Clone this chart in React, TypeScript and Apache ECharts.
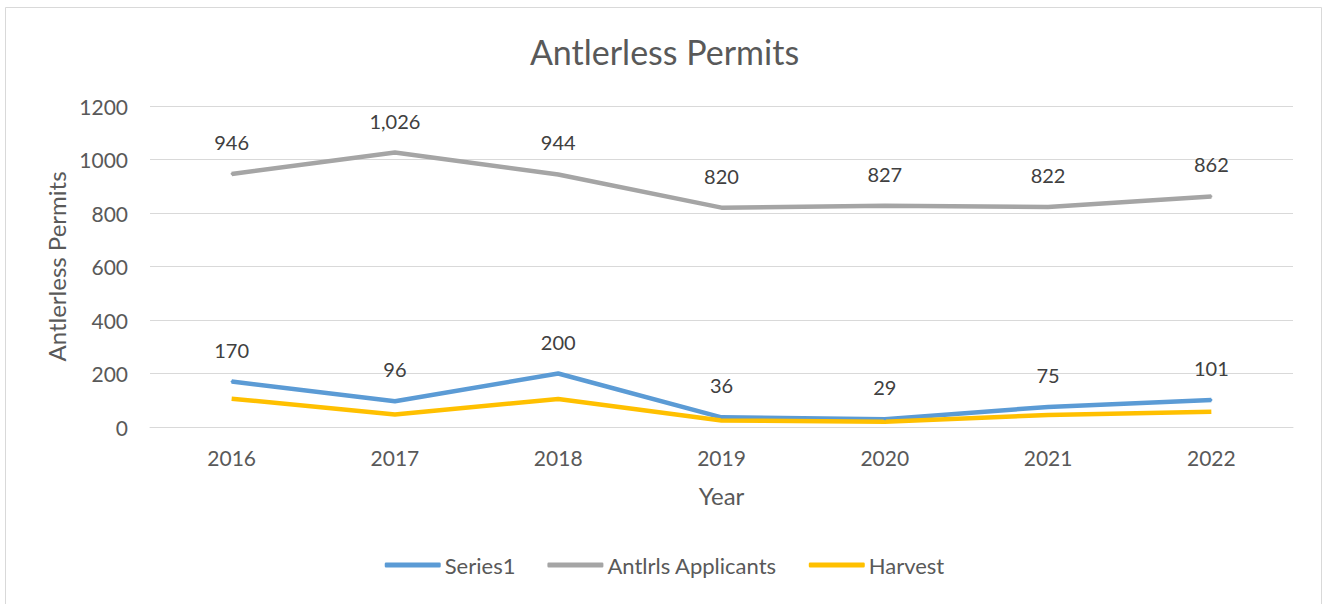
import React, { useEffect, useRef } from "react";
import * as echarts from "echarts";

const years = ["2016", "2017", "2018", "2019", "2020", "2021", "2022"];
const series1 = [170, 96, 200, 36, 29, 75, 101];
const applicants = [946, 1026, 944, 820, 827, 822, 862];
const harvest = [106, 47, 105, 24, 20, 45, 57];
const yTicks = { min: 0, max: 1200, interval: 200 };

const FONT = "Lato, 'Noto Sans', sans-serif";
const TXT = "#595959";

export default function App() {
  const ref = useRef<HTMLDivElement>(null);
  useEffect(() => {
    if (!ref.current) return;
    const chart = echarts.init(ref.current, undefined, { renderer: "svg" });
    const label = {
      show: true,
      position: "top",
      distance: 21,
      fontSize: 20,
      color: "#404040",
      fontFamily: FONT,
      formatter: (p: any) => Number(p.value).toLocaleString("en-US"),
    };
    chart.setOption({
      animation: false,
      backgroundColor: "#fff",
      textStyle: { fontFamily: FONT },
      title: {
        text: "Antlerless Permits",
        left: "center",
        top: 29,
        textStyle: { fontSize: 34, fontWeight: "normal", color: TXT, fontFamily: FONT },
      },
      graphic: [
        {
          type: "rect",
          shape: { x: 5.5, y: 7.5, width: 1316, height: 610 },
          style: { fill: "none", stroke: "#D9D9D9", lineWidth: 1 },
          silent: true,
        },
      ],
      legend: {
        bottom: 23,
        left: "center",
        itemWidth: 56,
        itemHeight: 5,
        itemGap: 32,
        icon: "roundRect",
        textStyle: { fontSize: 22, color: TXT, fontFamily: FONT, padding: [0, 0, 0, -1] },
        data: ["Series1", "Antlrls Applicants", "Harvest"],
      },
      grid: { left: 150, right: 36, top: 106, bottom: 177, containLabel: false },
      xAxis: {
        type: "category",
        data: years,
        boundaryGap: true,
        name: "Year",
        nameLocation: "middle",
        nameGap: 56,
        nameTextStyle: { fontSize: 24, color: TXT, fontFamily: FONT },
        axisLine: { show: true, lineStyle: { color: "#D9D9D9", width: 1 } },
        axisTick: { show: false },
        axisLabel: { fontSize: 21, color: TXT, margin: 20, fontFamily: FONT },
      },
      yAxis: {
        type: "value",
        min: yTicks.min,
        max: yTicks.max,
        interval: yTicks.interval,
        name: "Antlerless Permits",
        nameLocation: "middle",
        nameGap: 80,
        nameTextStyle: { fontSize: 24, color: TXT, fontFamily: FONT },
        axisLine: { show: false },
        axisTick: { show: false },
        axisLabel: {
          fontSize: 21,
          color: TXT,
          margin: 22,
          fontFamily: FONT,
          formatter: (v: number) => String(v),
        },
        splitLine: { lineStyle: { color: "#D9D9D9", width: 1 } },
      },
      series: [
        {
          name: "Series1",
          type: "line",
          data: series1,
          symbol: "circle",
          symbolSize: 2,
          lineStyle: { width: 4.5, color: "#5B9BD5" },
          itemStyle: { color: "#5B9BD5" },
          label,
        },
        {
          name: "Antlrls Applicants",
          type: "line",
          data: applicants,
          symbol: "circle",
          symbolSize: 2,
          lineStyle: { width: 4.5, color: "#A5A5A5" },
          itemStyle: { color: "#A5A5A5" },
          label,
        },
        {
          name: "Harvest",
          type: "line",
          data: harvest,
          symbol: "none",
          lineStyle: { width: 4.5, color: "#FFC000" },
          itemStyle: { color: "#FFC000" },
        },
      ],
    });
    return () => chart.dispose();
  }, []);
  return (
    <div
      ref={ref}
      style={{ position: "fixed", left: 0, top: 0, width: 1329, height: 604 }}
    />
  );
}
